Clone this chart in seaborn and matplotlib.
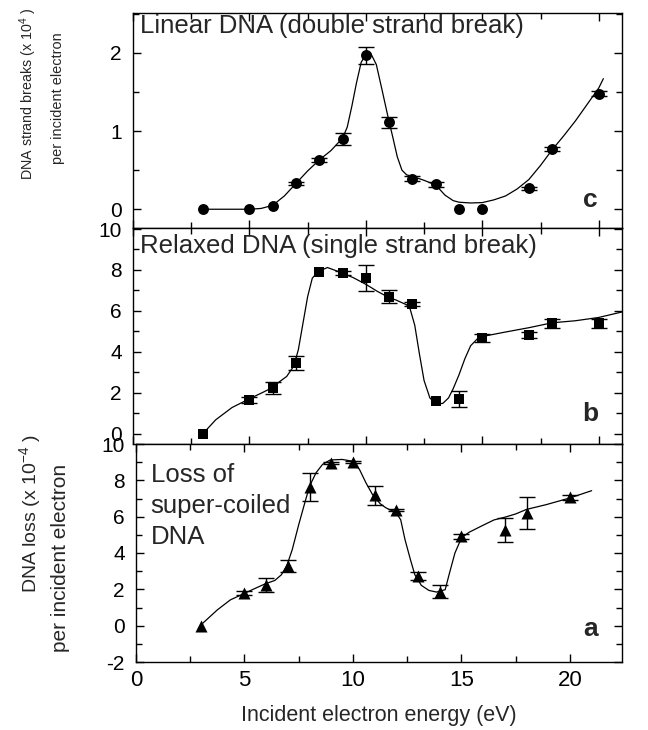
"""
DNA damage by low-energy electrons: three stacked panels
"""
import numpy as np
import pandas as pd
import matplotlib
matplotlib.use("Agg")
import matplotlib.pyplot as plt
import seaborn as sns
from matplotlib.ticker import MultipleLocator

# incident electron energy (eV)
energy = [3, 5, 6, 7, 8, 9, 10, 11, 12, 13, 14, 15, 17, 18, 20]

# panel c - linear DNA (double strand break), x 10^-4 per electron
linear = [0.0, 0.0, 0.04, 0.33, 0.63, 0.90, 1.97, 1.11, 0.39, 0.32, 0.0, 0.0, 0.27, 0.77, 1.48]
linear_err = [0, 0, 0, 0.02, 0.02, 0.08, 0.11, 0.07, 0.03, 0.03, 0, 0, 0.02, 0.03, 0.03]
linear_fit_x = [3, 4, 5, 5.5, 6, 6.5, 7, 7.5, 8, 8.5, 9, 9.2, 9.4, 9.6, 9.8, 10.0, 10.2,
                10.45, 10.7, 10.9, 11.0, 11.15, 11.35, 11.55, 11.75, 12.0, 12.5, 13.0, 13.4,
                13.75, 14.0, 14.5, 15.0, 15.5, 16.0, 16.5, 17.0, 17.5, 18.0, 18.5, 19.0,
                19.5, 20.0, 20.2]
linear_fit_y = [0.0, 0.0, 0.0, 0.01, 0.05, 0.17, 0.33, 0.49, 0.63, 0.75, 0.91, 1.05, 1.32,
                1.62, 1.88, 1.98, 2.0, 1.85, 1.52, 1.25, 1.12, 0.93, 0.67, 0.50, 0.44, 0.42,
                0.37, 0.31, 0.18, 0.11, 0.09, 0.08, 0.085, 0.12, 0.17, 0.26, 0.38, 0.56,
                0.76, 0.94, 1.13, 1.34, 1.55, 1.67]

# panel b - relaxed DNA (single strand break)
relaxed = [0.0, 1.67, 2.24, 3.45, 7.88, 7.83, 7.59, 6.70, 6.34, 1.59, 1.70, 4.67, 4.83, 5.40, 5.40]
relaxed_err = [0, 0.15, 0.28, 0.34, 0, 0.1, 0.63, 0.3, 0.1, 0, 0.38, 0.18, 0.16, 0.22, 0.21]
relaxed_fit_x = [3, 3.55, 4.25, 5.0, 5.5, 6.0, 6.3, 6.6, 6.9, 7.1, 7.3, 7.5, 7.7, 7.95, 8.35,
                 8.9, 9.45, 10.0, 10.5, 11.0, 11.3, 11.75, 11.9, 12.1, 12.3, 12.5, 12.75,
                 13.0, 13.3, 13.55, 13.75, 14.0, 14.25, 14.5, 14.8, 15.0, 16, 17, 18, 19,
                 20, 21]
relaxed_fit_y = [0.0, 0.68, 1.28, 1.71, 1.98, 2.26, 2.55, 2.8, 3.3, 4.1, 5.4, 6.7, 7.6, 7.92,
                 8.12, 7.89, 7.63, 7.3, 6.95, 6.65, 6.53, 6.3, 6.1, 5.3, 3.9, 2.6, 1.75,
                 1.47, 1.48, 1.75, 2.2, 2.88, 3.66, 4.3, 4.65, 4.75, 4.97, 5.18, 5.42,
                 5.52, 5.68, 5.95]

# panel a - loss of super-coiled DNA
loss = [0.0, 1.79, 2.25, 3.30, 7.65, 8.97, 9.03, 7.18, 6.35, 2.76, 1.88, 4.92, 5.28, 6.21, 7.07]
loss_err = [0, 0.1, 0.4, 0.33, 0.78, 0.05, 0.05, 0.53, 0.05, 0.22, 0.38, 0.15, 0.65, 0.88, 0.15]
loss_fit_x = [3.0, 3.75, 4.35, 4.95, 5.45, 5.95, 6.4, 6.7, 6.95, 7.2, 7.5, 7.8, 8.0, 8.3, 8.6,
              8.95, 9.5, 9.95, 10.3, 10.6, 10.9, 11.25, 11.5, 11.75, 11.95, 12.2, 12.4,
              12.65, 12.85, 13.15, 13.5, 13.85, 14.25, 14.45, 14.7, 15.0, 15.35, 15.95,
              16.5, 17.0, 17.5, 18.0, 18.9, 20.0, 21.0]
loss_fit_y = [0.05, 0.87, 1.42, 1.75, 2.03, 2.3, 2.49, 2.8, 3.3, 4.18, 5.56, 6.85, 7.68, 8.42,
              8.88, 9.12, 9.15, 9.06, 8.6, 7.86, 7.22, 6.72, 6.5, 6.35, 6.28, 5.83, 4.73,
              3.63, 2.81, 2.22, 1.94, 1.85, 1.98, 2.9, 4.0, 4.83, 5.14, 5.5, 5.82, 5.97,
              6.15, 6.40, 6.66, 7.03, 7.43]

sns.set_style("ticks")
plt.rcParams['font.family'] = ['Liberation Sans', 'DejaVu Sans']
plt.rcParams['mathtext.default'] = 'regular'
plt.rcParams['axes.unicode_minus'] = False
plt.rcParams['xtick.direction'] = 'in'
plt.rcParams['ytick.direction'] = 'in'
plt.rcParams['axes.linewidth'] = 1.0
plt.rcParams['axes.edgecolor'] = 'black'
plt.rcParams['xtick.color'] = 'black'
plt.rcParams['ytick.color'] = 'black'

W, H = 648, 730
fig = plt.figure(figsize=(W / 100, H / 100), dpi=100)


def px_axes(left, top, right, bottom):
    """Add axes from pixel box"""
    return fig.add_axes([left / W, 1 - bottom / H, (right - left) / W, (bottom - top) / H])


ax_c = px_axes(133, 13, 622, 228)
ax_b = px_axes(133, 228, 622, 444)
ax_a = px_axes(136, 444, 622, 662)

panels = [
    (ax_c, linear, linear_err, linear_fit_x, linear_fit_y, 'o', 62, (-0.24, 2.51), 1, 0.5, 21.0),
    (ax_b, relaxed, relaxed_err, relaxed_fit_x, relaxed_fit_y, 's', 55, (-0.5, 10.05), 2, 1, 21.0),
    (ax_a, loss, loss_err, loss_fit_x, loss_fit_y, '^', 75, (-2, 10), 2, 1, 22.4),
]

for ax, vals, errs, fx, fy, mk, ms, ylim, major, minor, xmax in panels:
    df = pd.DataFrame({'energy': energy, 'value': vals, 'err': errs})
    sns.lineplot(x=fx, y=fy, ax=ax, color='black', lw=0.9, sort=False, estimator=None)
    bars = df[df['err'] > 0]
    ax.errorbar(bars['energy'], bars['value'], yerr=bars['err'], fmt='none',
                ecolor='black', elinewidth=1.0, capsize=5.5, capthick=1.0, zorder=3)
    sns.scatterplot(data=df, x='energy', y='value', ax=ax, marker=mk, s=ms,
                    color='black', edgecolor='black', linewidth=0, zorder=4)
    ax.set_xlim(0, xmax)
    ax.set_ylim(*ylim)
    ax.xaxis.set_major_locator(MultipleLocator(5))
    ax.xaxis.set_minor_locator(MultipleLocator(2.5))
    ax.yaxis.set_major_locator(MultipleLocator(major))
    ax.yaxis.set_minor_locator(MultipleLocator(minor))
    ax.tick_params(which='both', top=True, right=True)
    ax.tick_params(axis='y', pad=8, labelsize=15)
    ax.tick_params(axis='x', pad=6, labelsize=16)
    ax.tick_params(which='major', length=6, width=1)
    ax.tick_params(which='minor', length=4, width=1)
    ax.set_xlabel('')
    ax.set_ylabel('')
    for s in ax.spines.values():
        s.set_visible(True)

ax_c.tick_params(labelbottom=False)
ax_b.tick_params(labelbottom=False)

# panel texts
ax_c.text(0.015, 0.94, 'Linear DNA (double strand break)', transform=ax_c.transAxes,
          fontsize=18.5, ha='left', va='center')
ax_b.text(0.015, 0.918, 'Relaxed DNA (single strand break)', transform=ax_b.transAxes,
          fontsize=18.5, ha='left', va='center')
ax_a.text(0.03, 0.716, 'Loss of\nsuper-coiled\nDNA', transform=ax_a.transAxes,
          fontsize=18.5, ha='left', va='center', linespacing=1.35)
for ax, lab, yy in [(ax_c, 'c', 0.13), (ax_b, 'b', 0.137), (ax_a, 'a', 0.15)]:
    ax.text(0.935, yy, lab, transform=ax.transAxes, fontsize=19, fontweight='bold',
            ha='center', va='center')

ax_a.set_xlabel('Incident electron energy (eV)', fontsize=15.5, labelpad=10)

# y labels, two lines each; the upper pair sits in a short column beside panel c
upper = [
    fig.text(28 / W, 1 - 94 / H, r'DNA strand breaks (x 10$^{4}$ )', rotation=90,
             fontsize=11, ha='center', va='center'),
    fig.text(58 / W, 1 - 98 / H, 'per incident electron', rotation=90,
             fontsize=11, ha='center', va='center'),
]
fig.canvas.draw()
renderer = fig.canvas.get_renderer()
for txt, target in zip(upper, [172, 130]):
    length = txt.get_window_extent(renderer).height
    txt.set_fontsize(11 * target / length)

fig.text(30 / W, 1 - 514 / H, r'DNA loss (x 10$^{-4}$ )', rotation=90,
         fontsize=14, ha='center', va='center')
fig.text(60 / W, 1 - 558 / H, 'per incident electron', rotation=90,
         fontsize=15, ha='center', va='center')

fig.savefig('out.png', dpi=100)
